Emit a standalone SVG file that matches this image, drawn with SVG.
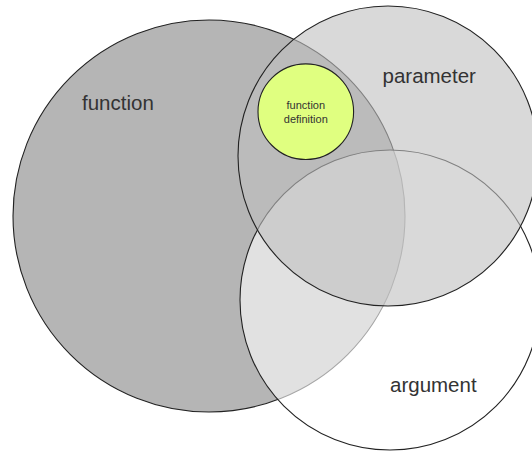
<svg xmlns="http://www.w3.org/2000/svg" width="532" height="451" viewBox="0 0 532 451">
  <style>
    .set { stroke: #222; stroke-width: 1.1; }
    .lbl { font-family: "Liberation Sans", Arial, sans-serif; fill: #333; font-size: 20.5px; }
    .small { font-family: "Liberation Sans", Arial, sans-serif; fill: #333; font-size: 11px; text-anchor: middle; }
  </style>
  <rect width="532" height="451" fill="#ffffff"/>
  <g id="function">
    <circle class="set" cx="209" cy="216" r="196" fill="#b5b5b5"/>
    <text class="lbl" x="82" y="110">function</text>
  </g>
  <g id="argument">
    <circle class="set" cx="390" cy="300" r="150" fill="#ffffff" fill-opacity="0.6"/>
    <text class="lbl" x="390" y="391.5">argument</text>
  </g>
  <g id="parameter">
    <circle class="set" cx="388" cy="156" r="150" fill="#bfbfbf" fill-opacity="0.6"/>
    <text class="lbl" x="382.5" y="82.5">parameter</text>
  </g>
  <g id="function-definition">
    <circle class="set" cx="305.8" cy="111.7" r="47.8" fill="#e0ff80"/>
    <text class="small" x="305.8" y="109.3">function</text>
    <text class="small" x="305.8" y="123.3">definition</text>
  </g>
  <g id="connectors"/>
</svg>
